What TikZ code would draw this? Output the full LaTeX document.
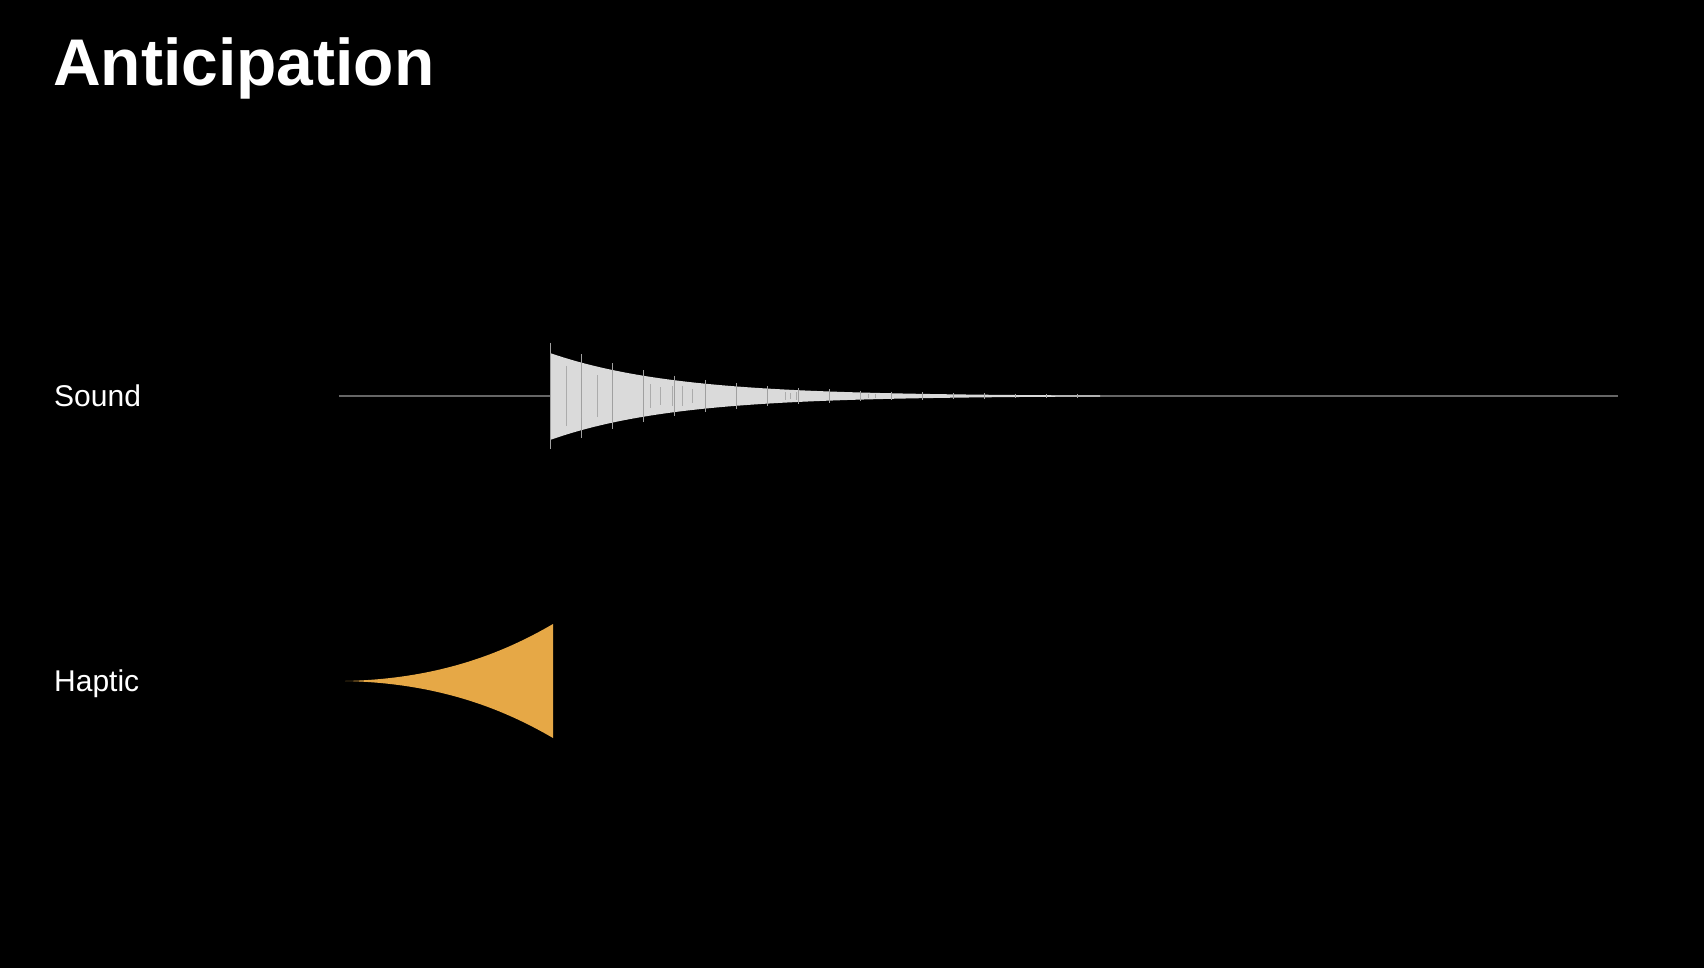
\documentclass[tikz,border=0pt]{standalone}
\usepackage{fontspec}
\setmainfont{Liberation Sans}
\definecolor{wavecol}{HTML}{DADADA}
\definecolor{spikecol}{HTML}{A0A0A0}
\definecolor{axiscol}{HTML}{666666}
\definecolor{hapticcol}{HTML}{E6A846}
\tikzset{
  label/.style={text=white, font=\fontsize{30}{34}\selectfont, anchor=base west, inner sep=0pt},
  titlestyle/.style={text=white, font=\fontsize{66}{72}\bfseries\selectfont, anchor=base west, inner sep=0pt},
}
\begin{document}
\begin{tikzpicture}[x=1pt,y=-1pt]
\fill[black] (0,0) rectangle (1704,968);
\useasboundingbox (0,0) rectangle (1704,968);
\node[titlestyle] (title) at (53,86) {Anticipation};
\node[label] (sound) at (54,406) {Sound};
\node[label] (haptic) at (54,691) {Haptic};
% axis line
\coordinate (axisL) at (339,396);
\coordinate (axisR) at (1618,396);
\draw[axiscol, line width=1.6pt] (axisL) -- (axisR);
% waveform envelope
\fill[wavecol] (550,396)
  -- plot[domain=550:1100, samples=200] (\x, {396-43*exp(-(\x-550)/124)})
  -- plot[domain=1100:550, samples=200] (\x, {396+44*exp(-(\x-550)/124)})
  -- cycle;
% spikes
\foreach \k in {0,...,17} {
  \pgfmathsetmacro{\xx}{550+31*\k}
  \pgfmathsetmacro{\aa}{1.22*43*exp(-(\xx-550)/124)+1}
  \draw[spikecol, line width=0.9pt] (\xx,{396-\aa}) -- (\xx,{396+\aa});
}
% inner darker lines
\foreach \xx/\ff in {566/0.8,597/0.7,650/0.6,660/0.5,672/0.6,682/0.7,692/0.5,785/0.6,790/0.5,796/0.7,860/0.6,868/0.5,875/0.6} {
  \pgfmathsetmacro{\aa}{\ff*43*exp(-(\xx-550)/124)}
  \draw[spikecol!80!wavecol, line width=0.6pt] (\xx,{396-\aa}) -- (\xx,{396+\aa});
}
% haptic shape
\fill[hapticcol] (345,681)
  .. controls (440,679) and (505,652) .. (553,624)
  -- (553,738)
  .. controls (505,710) and (440,683) .. (345,681) -- cycle;
\end{tikzpicture}
\end{document}
